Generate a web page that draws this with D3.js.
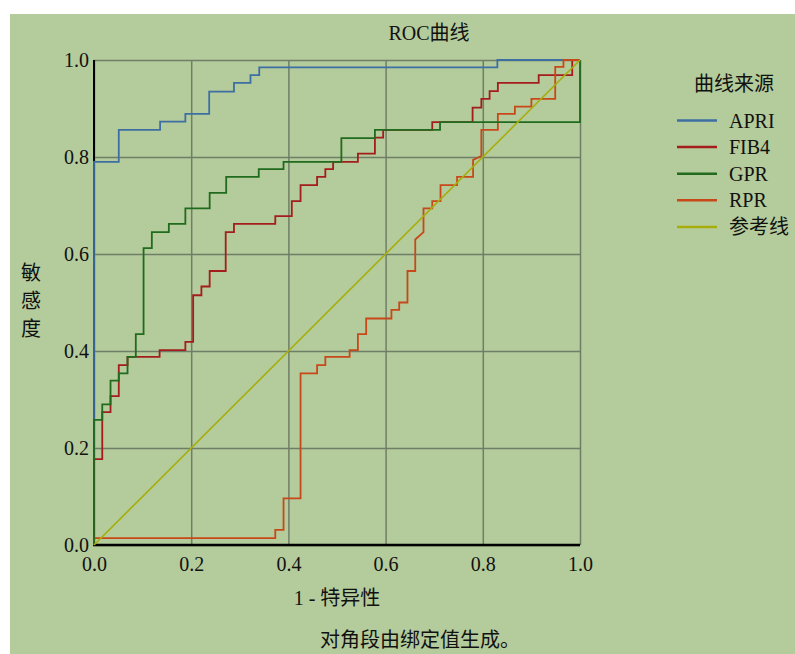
<!DOCTYPE html>
<html lang="zh">
<head>
    <meta charset="UTF-8">
    <title>ROC曲线</title>
    <style>
        * {
            margin: 0;
            padding: 0;
        }

        body {
            background: #ffffff;
        }

        svg text {
            font-family: "Times New Roman", "Liberation Serif", "DejaVu Serif", "Noto Sans CJK SC", serif !important;
            fill: #111111;
        }

        .grid line {
            stroke: #6f7e67;
            stroke-width: 1.5;
        }

        .grid path {
            display: none;
        }
    </style>
</head>
<body>

<div id="container"></div>

<script src="https://cdn.jsdelivr.net/npm/d3@7/dist/d3.min.js"></script>

<script>

    "use strict";

    // ROC points (1 - specificity, sensitivity)
    var apriX = [0, 0, 0.051, 0.051, 0.136, 0.136, 0.188, 0.188, 0.237, 0.237, 0.288, 0.288, 0.322, 0.322, 0.340, 0.340, 0.830, 0.830, 1.0];
    var apriY = [0, 0.790, 0.790, 0.856, 0.856, 0.873, 0.873, 0.889, 0.889, 0.935, 0.935, 0.953, 0.953, 0.969, 0.969, 0.985, 0.985, 1.0, 1.0];

    var fib4X = [0, 0, 0.017, 0.017, 0.034, 0.034, 0.051, 0.051, 0.069, 0.069, 0.135, 0.135, 0.188, 0.188, 0.204, 0.204, 0.221, 0.221, 0.238, 0.238,
        0.271, 0.271, 0.288, 0.288, 0.373, 0.373, 0.407, 0.407, 0.425, 0.425, 0.459, 0.459, 0.476, 0.476, 0.492, 0.492, 0.543, 0.543,
        0.578, 0.578, 0.595, 0.595, 0.696, 0.696, 0.779, 0.779, 0.797, 0.797, 0.814, 0.814, 0.831, 0.831, 0.915, 0.915, 0.984, 0.984, 1.0];
    var fib4Y = [0, 0.177, 0.177, 0.274, 0.274, 0.307, 0.307, 0.371, 0.371, 0.388, 0.388, 0.402, 0.402, 0.419, 0.419, 0.515, 0.515, 0.533, 0.533, 0.565,
        0.565, 0.645, 0.645, 0.662, 0.662, 0.678, 0.678, 0.709, 0.709, 0.742, 0.742, 0.759, 0.759, 0.775, 0.775, 0.790, 0.790, 0.807,
        0.807, 0.840, 0.840, 0.856, 0.856, 0.872, 0.872, 0.902, 0.902, 0.920, 0.920, 0.936, 0.936, 0.953, 0.953, 0.969, 0.969, 1.0, 1.0];

    var gprX = [0, 0, 0.017, 0.017, 0.034, 0.034, 0.051, 0.051, 0.069, 0.069, 0.086, 0.086, 0.102, 0.102, 0.119, 0.119, 0.154, 0.154,
        0.188, 0.188, 0.238, 0.238, 0.272, 0.272, 0.339, 0.339, 0.390, 0.390, 0.509, 0.509, 0.578, 0.578, 0.712, 0.712, 1.0, 1.0];
    var gprY = [0, 0.258, 0.258, 0.290, 0.290, 0.339, 0.339, 0.354, 0.354, 0.388, 0.388, 0.435, 0.435, 0.612, 0.612, 0.645, 0.645, 0.662,
        0.662, 0.694, 0.694, 0.726, 0.726, 0.759, 0.759, 0.775, 0.775, 0.790, 0.790, 0.839, 0.839, 0.856, 0.856, 0.872, 0.872, 1.0];

    var rprX = [0, 0, 0.373, 0.373, 0.390, 0.390, 0.425, 0.425, 0.459, 0.459, 0.476, 0.476, 0.526, 0.526, 0.543, 0.543, 0.560, 0.560,
        0.612, 0.612, 0.628, 0.628, 0.645, 0.645, 0.661, 0.661, 0.678, 0.678, 0.696, 0.696, 0.713, 0.713, 0.747, 0.747, 0.780, 0.780,
        0.797, 0.797, 0.831, 0.831, 0.866, 0.866, 0.900, 0.900, 0.949, 0.949, 0.966, 0.966, 1.0];
    var rprY = [0, 0.014, 0.014, 0.031, 0.031, 0.096, 0.096, 0.354, 0.354, 0.371, 0.371, 0.388, 0.388, 0.402, 0.402, 0.435, 0.435, 0.467,
        0.467, 0.485, 0.485, 0.500, 0.500, 0.565, 0.565, 0.630, 0.645, 0.694, 0.694, 0.709, 0.709, 0.742, 0.742, 0.759, 0.759, 0.794,
        0.802, 0.856, 0.856, 0.889, 0.889, 0.904, 0.904, 0.920, 0.920, 0.986, 0.986, 1.0, 1.0];

    var refX = [0, 1];
    var refY = [0, 1];

    var seriesNames = ['APRI', 'FIB4', 'GPR', 'RPR', '参考线'];
    var seriesColors = ['#3d6fa3', '#a41c1c', '#206b1e', '#c8481a', '#a7ae0c'];
    var tickValues = [0, 0.2, 0.4, 0.6, 0.8, 1.0];

    (function() {

        var width = 795,
            height = 654,
            margin = { top: 60, left: 94 },
            plotW = 486,
            plotH = 485;

        var svg = d3.select('#container')
            .append('svg')
            .attr('width', width)
            .attr('height', height);

        // green panel
        svg.append('rect')
            .attr('x', 10)
            .attr('y', 14)
            .attr('width', width - 10)
            .attr('height', height - 14)
            .style('fill', '#b4cb9b');

        var main = svg.append('g')
            .attr('transform', 'translate(' + margin.left + ',' + margin.top + ')');

        var x = d3.scaleLinear().domain([0, 1]).range([0, plotW]);
        var y = d3.scaleLinear().domain([0, 1]).range([plotH, 0]);

        // grid + tick labels
        main.append('g')
            .attr('class', 'grid')
            .call(d3.axisLeft(y).tickValues(tickValues).tickSize(-plotW).tickPadding(5).tickFormat(d3.format('.1f')));

        main.append('g')
            .attr('class', 'grid')
            .attr('transform', 'translate(0,' + plotH + ')')
            .call(d3.axisBottom(x).tickValues(tickValues).tickSize(-plotH).tickPadding(12).tickFormat(d3.format('.1f')));

        main.selectAll('.grid').attr('font-family', null).attr('font-size', null);
        main.selectAll('.grid .tick text').style('font-size', '20px').style('fill', '#111');

        // black axis lines
        main.append('line')
            .attr('x1', x(0)).attr('x2', x(0))
            .attr('y1', y(0) + 1).attr('y2', y(1))
            .style('stroke', '#000').style('stroke-width', 2);

        main.append('line')
            .attr('x1', x(0) - 1).attr('x2', x(1))
            .attr('y1', y(0)).attr('y2', y(0))
            .style('stroke', '#000').style('stroke-width', 2.5);

        var line = d3.line()
            .x(function(d) { return x(d[0]); })
            .y(function(d) { return y(d[1]); });

        var allX = [apriX, fib4X, gprX, rprX, refX],
            allY = [apriY, fib4Y, gprY, rprY, refY];

        // drawing order: APRI, FIB4, RPR, GPR, reference
        var order = [0, 1, 3, 2, 4];

        order.forEach(function(i) {

            var pts = d3.zip(allX[i], allY[i]);

            main.append('path')
                .datum(pts)
                .attr('d', line)
                .style('fill', 'none')
                .style('stroke', seriesColors[i])
                .style('stroke-width', i === 4 ? 1.6 : 1.8)
                .style('stroke-linejoin', 'miter');
        });

        // titles
        svg.append('text')
            .attr('x', 429)
            .attr('y', 40)
            .attr('text-anchor', 'middle')
            .style('font-size', '20px')
            .text('ROC曲线');

        svg.append('text')
            .attr('x', margin.left + plotW / 2)
            .attr('y', 605)
            .attr('text-anchor', 'middle')
            .style('font-size', '20px')
            .text('1 - 特异性');

        svg.append('text')
            .attr('x', 420)
            .attr('y', 647)
            .attr('text-anchor', 'middle')
            .style('font-size', '20px')
            .text('对角段由绑定值生成。');

        svg.selectAll('.ytitle')
            .data(['敏', '感', '度'])
            .enter()
            .append('text')
            .attr('class', 'ytitle')
            .attr('x', 31)
            .attr('y', function(d, i) { return 280 + i * 28; })
            .attr('text-anchor', 'middle')
            .style('font-size', '20px')
            .text(function(d) { return d; });

        // legend
        svg.append('text')
            .attr('x', 734)
            .attr('y', 91)
            .attr('text-anchor', 'middle')
            .style('font-size', '20px')
            .text('曲线来源');

        var legend = svg.selectAll('.legend')
            .data(seriesNames)
            .enter()
            .append('g')
            .attr('class', 'legend')
            .attr('transform', function(d, i) {
                return 'translate(0,' + (120.5 + i * 26.6) + ')';
            });

        legend.append('line')
            .attr('x1', 677)
            .attr('x2', 717)
            .style('stroke', function(d, i) { return seriesColors[i]; })
            .style('stroke-width', 2.5);

        legend.append('text')
            .attr('x', 729)
            .attr('y', 7)
            .style('font-size', '20px')
            .text(function(d) { return d; });

    })();

</script>
</body>
</html>
